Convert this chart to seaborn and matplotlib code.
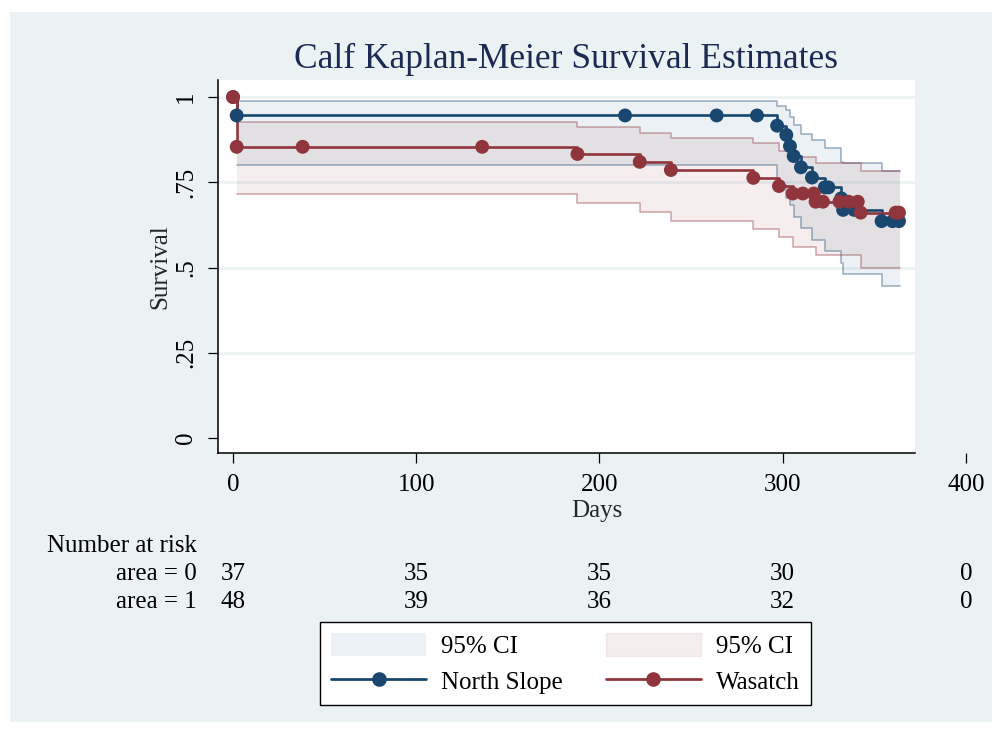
import matplotlib
matplotlib.use("Agg")
import matplotlib.pyplot as plt
from matplotlib.patches import Rectangle, Patch
from matplotlib.lines import Line2D
from matplotlib.colors import to_rgba
import matplotlib.transforms as mtransforms
import seaborn as sns

# ---- North Slope (area = 0): Kaplan-Meier step curve ----
ns_days = [0, 2, 297, 302, 304, 306, 310, 316, 323, 332, 333, 354, 364]
ns_surv = [1.0, .946, .916, .889, .856, .827, .794, .764, .735, .703, .669, .636, .636]
ns_ci_days = [2, 297, 302, 304, 306, 310, 316, 323, 332, 333, 354, 364]
ns_lower = [.800, .742, .703, .683, .649, .616, .581, .549, .513, .481, .447, .447]
ns_upper = [.989, .975, .962, .942, .918, .893, .874, .852, .810, .806, .784, .784]
ns_mark_days = [0, 2, 214, 264, 286, 297, 302, 304, 306, 310, 316, 323, 325,
                332, 333, 339, 354, 360, 363.5]
ns_mark_surv = [1.0, .946, .946, .946, .946, .916, .889, .856, .827, .794, .764,
                .735, .735, .703, .669, .669, .636, .636, .636]

# ---- Wasatch (area = 1): Kaplan-Meier step curve ----
ws_days = [0, 2, 188, 222, 239, 284, 298, 305.5, 318, 342.6, 364]
ws_surv = [1.0, .854, .833, .810, .786, .763, .739, .717, .693, .661, .661]
ws_ci_days = [2, 188, 222, 239, 284, 298, 305.5, 318, 342.6, 364]
ws_lower = [.717, .690, .664, .637, .612, .589, .561, .537, .498, .498]
ws_upper = [.928, .913, .896, .879, .864, .843, .825, .807, .784, .784]
ws_mark_days = [0, 2, 38, 136, 188, 222, 239, 284, 298, 305.5, 311, 317, 318,
                322, 331, 336, 341, 342.6, 361.7, 363.5]
ws_mark_surv = [1.0, .854, .854, .854, .833, .810, .786, .763, .739, .717, .717,
                .717, .693, .693, .693, .693, .693, .661, .661, .661]

# ---- axes, labels, risk table ----
x_ticks = [0, 100, 200, 300, 400]
y_ticks = [0, .25, .5, .75, 1]
y_tick_labels = ["0", ".25", ".5", ".75", "1"]
risk_days = [0, 100, 200, 300, 400]
risk_area0 = [37, 35, 35, 30, 0]
risk_area1 = [48, 39, 36, 32, 0]
group_names = ["North Slope", "Wasatch"]
title = "Calf Kaplan-Meier Survival Estimates"

sns.set_theme(style="white")
plt.rcParams["font.family"] = ["Liberation Serif", "DejaVu Serif"]
plt.rcParams["text.color"] = "black"

BG = "#eaf2f3"
NAVY = "#1a476f"
MAROON = "#90353b"
NAVY_FILL = to_rgba("#236987", 0.09)
MAROON_FILL = to_rgba(MAROON, 0.085)
W, H = 1000, 732

fig = plt.figure(figsize=(W / 100, H / 100), dpi=100)
fig.patch.set_facecolor("white")
fig.patches.append(Rectangle((10 / W, 1 - 722 / H), 982 / W, 710 / H,
                             transform=fig.transFigure, facecolor=BG,
                             edgecolor="none", zorder=-10))

ax = fig.add_axes([218 / W, 1 - 453 / H, 757 / W, 373 / H])
ax.set_facecolor("none")
x0, x1 = -8.2, 372.1
ax.set_xlim(x0, 405)
ax.set_ylim(-0.044, 1.05)

# white plot region and horizontal grid lines
ax.add_patch(Rectangle((x0, -0.044), x1 - x0, 1.094, facecolor="white",
                       edgecolor="none", zorder=0))
for yv in y_ticks[1:]:
    ax.plot([x0, x1], [yv, yv], color=BG, lw=1.8, zorder=0.5, solid_capstyle="butt")

# confidence bands
for days, lo, hi, col, fill in [(ns_ci_days, ns_lower, ns_upper, NAVY, NAVY_FILL),
                                (ws_ci_days, ws_lower, ws_upper, MAROON, MAROON_FILL)]:
    ax.fill_between(days, lo, hi, step="post", facecolor=fill, lw=0, zorder=1)
    for edge in (lo, hi):
        sns.lineplot(x=days, y=edge, ax=ax, color=col, alpha=0.4, lw=1.2,
                     drawstyle="steps-post", estimator=None, sort=False, zorder=2)

# survival curves and markers
for days, surv, md, ms, col in [(ns_days, ns_surv, ns_mark_days, ns_mark_surv, NAVY),
                                (ws_days, ws_surv, ws_mark_days, ws_mark_surv, MAROON)]:
    sns.lineplot(x=days, y=surv, ax=ax, color=col, lw=1.9,
                 drawstyle="steps-post", estimator=None, sort=False, zorder=3)
    sns.scatterplot(x=md, y=ms, ax=ax, color=col, s=100, edgecolor="none",
                    linewidth=0, zorder=4)

# axes styling
for s in ("top", "right"):
    ax.spines[s].set_visible(False)
for s in ("left", "bottom"):
    ax.spines[s].set_color("black")
    ax.spines[s].set_linewidth(1.1)
ax.spines["bottom"].set_bounds(x0, x1)

ax.set_xticks(x_ticks)
ax.set_xticklabels([str(v) for v in x_ticks])
ax.set_yticks(y_ticks)
ax.set_yticklabels(y_tick_labels, rotation=90, va="center")
ax.tick_params(axis="both", direction="out", length=7, width=0.9,
               color="black", labelsize=18, labelcolor="black", pad=8,
               bottom=True, left=True)
ax.set_xlabel("Days", fontsize=18, labelpad=3)
ax.set_ylabel("Survival", fontsize=18, labelpad=3)

fig.text(565.5 / W, 1 - 59 / H, title, ha="center", va="center",
         fontsize=25.5, color="#1c2b54")

# number-at-risk table
fig.text(47 / W, 1 - 551.7 / H, "Number at risk", ha="left", va="baseline",
         fontsize=18)
trans = mtransforms.blended_transform_factory(ax.transData, fig.transFigure)
for lbl, counts, base in [("area = 0", risk_area0, 580), ("area = 1", risk_area1, 607.7)]:
    fig.text(197 / W, 1 - base / H, lbl, ha="right", va="baseline", fontsize=18)
    for d, n in zip(risk_days, counts):
        ax.text(d, 1 - base / H, str(n), transform=trans, ha="center",
                va="baseline", fontsize=18, clip_on=False)

# legend
handles = [
    Patch(facecolor=NAVY_FILL, edgecolor="none"),
    Line2D([], [], color=NAVY, lw=2, marker="o", markersize=9.5),
    Patch(facecolor=MAROON_FILL, edgecolor=to_rgba(MAROON, 0.08)),
    Line2D([], [], color=MAROON, lw=2, marker="o", markersize=9.5),
]
labels = ["95% CI", group_names[0], "95% CI", group_names[1]]
leg = fig.legend(handles, labels, ncol=2, loc="center",
                 bbox_to_anchor=(565.5 / W, 1 - 663.5 / H), frameon=True,
                 fancybox=False, edgecolor="black", facecolor="white",
                 framealpha=1, fontsize=18, handlelength=3.8, handleheight=1.0,
                 handletextpad=0.6, columnspacing=1.7, labelspacing=0.45,
                 borderpad=0.45)
leg.get_frame().set_linewidth(1.0)

fig.savefig("out.png", dpi=100, facecolor="white")
